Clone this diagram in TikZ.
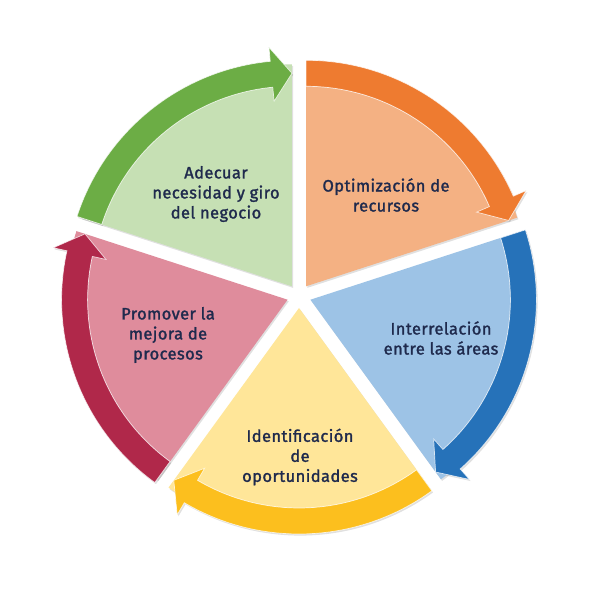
\documentclass[tikz,border=0pt]{standalone}
\usepackage{fontspec}
\setmainfont{Fira Sans}
\newfontfamily\lblfont{Fira Sans}[FakeBold=1.6,LetterSpace=2.5]
\usetikzlibrary{calc}
\definecolor{gL}{HTML}{C6E0B4}
\definecolor{gD}{HTML}{6CAD45}
\definecolor{oL}{HTML}{F4B183}
\definecolor{oD}{HTML}{EE7B30}
\definecolor{bL}{HTML}{9DC3E6}
\definecolor{bD}{HTML}{2672B9}
\definecolor{yL}{HTML}{FFE699}
\definecolor{yD}{HTML}{FCBF1E}
\definecolor{rL}{HTML}{DF8C9C}
\definecolor{rD}{HTML}{B0284A}
\definecolor{txt}{HTML}{1F2A4D}
\begin{document}
\begin{tikzpicture}[x=1pt,y=1pt,
  lbl/.style={align=center,text=txt,font=\lblfont\fontsize{16.5}{20}\selectfont},
  shade/.style={fill=black,opacity=0.12},
  band/.style={draw=white,draw opacity=0.75,line width=0.7pt}]
\useasboundingbox[fill=white] (0,0) rectangle (600,600);
\coordinate (C) at (299,304);
\foreach \a/\lc/\dc in {90/gL/gD,18/oL/oD,-54/bL/bD,-126/yL/yD,162/rL/rD}{
  \begin{scope}[shift={($(C)+(\a+36:12)$)}]
    % shadow
    \fill[shade,shift={(1.2,-1.6)}] (0,0) -- (\a:222) arc[start angle=\a, end angle=\a+72, radius=222] -- cycle;
    \fill[shade,shift={(1.2,-1.6)}] (\a+72:200) -- (\a+72:226) arc[start angle=\a+72, end angle=\a+5.5, radius=226]
      -- (\a+5.5:240) -- (\a:213) -- (\a+5.5:186) -- (\a+5.5:200) arc[start angle=\a+5.5, end angle=\a+72, radius=200] -- cycle;
    % light sector
    \fill[\lc] (0,0) -- (\a:222) arc[start angle=\a, end angle=\a+72, radius=222] -- cycle;
    \draw[white,opacity=0.6,line width=0.5pt] (\a+5.5:200) arc[start angle=\a+5.5, end angle=\a+72, radius=200];
    % arrow band
    \fill[\dc,band] (\a+72:200) -- (\a+72:226) arc[start angle=\a+72, end angle=\a+5.5, radius=226]
      -- (\a+5.5:240) -- (\a:213) -- (\a+5.5:186) -- (\a+5.5:200) arc[start angle=\a+5.5, end angle=\a+72, radius=200] -- cycle;
  \end{scope}
}
\node[lbl] (adecuar) at (216,406) {Adecuar\\necesidad y giro\\del negocio};
\node[lbl] (optim) at (386,405) {Optimización de\\recursos};
\node[lbl] (inter) at (441,262) {Interrelación\\entre las áreas};
\node[lbl] (ident) at (300,143) {Identificación\\de\\oportunidades};
\node[lbl] (promo) at (168,265) {Promover la\\mejora de\\procesos};
\end{tikzpicture}
\end{document}
